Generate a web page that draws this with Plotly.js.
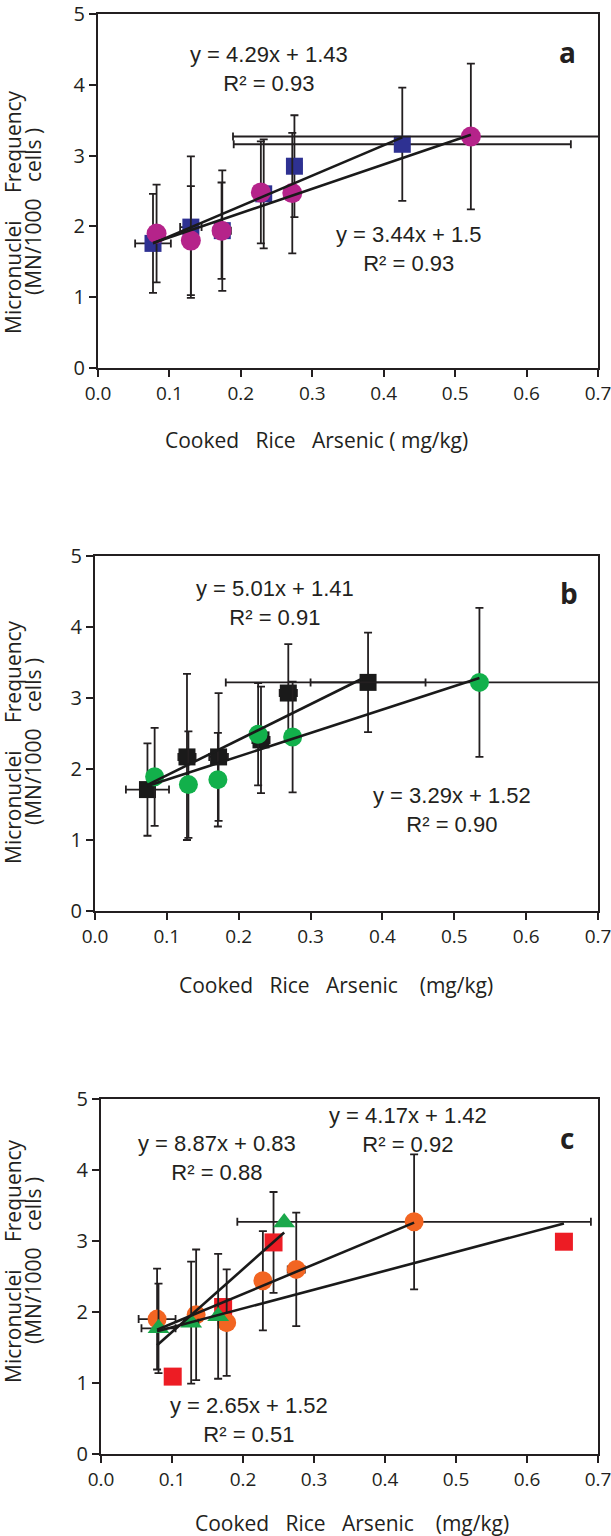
<!DOCTYPE html>
<html>
<head>
<meta charset="utf-8">
<script src="https://cdn.plot.ly/plotly-3.0.1.min.js"></script>
<style>
  body { margin: 0; background: #fff; }
  #graph { width: 611px; height: 1536px; }
</style>
</head>
<body>
<div id="graph"></div>
<script>

// panel a : magenta circles and blue squares
var aMagX = [0.082, 0.130, 0.173, 0.228, 0.272, 0.522];
var aMagY = [1.90, 1.80, 1.94, 2.48, 2.47, 3.27];
var aMagEy = [0.69, 0.77, 0.68, 0.72, 0.85, 1.03];
var aMagEx = [0.010, 0.008, 0.008, 0.008, 0.010, 0.333];
var aBluX = [0.077, 0.130, 0.174, 0.232, 0.275, 0.426];
var aBluY = [1.76, 1.99, 1.94, 2.46, 2.85, 3.16];
var aBluEy = [0.70, 1.00, 0.85, 0.77, 0.72, 0.80];
var aBluEx = [0.025, 0.015, 0.012, 0.010, 0.010, 0.236];

// panel b : black squares and green circles
var bBlkX = [0.073, 0.128, 0.172, 0.231, 0.269, 0.380];
var bBlkY = [1.71, 2.17, 2.17, 2.41, 3.07, 3.22];
var bBlkEy = [0.65, 1.17, 0.90, 0.75, 0.69, 0.70];
var bBlkEx = [0.030, 0.012, 0.013, 0.012, 0.012, 0.080];
var bGrnX = [0.083, 0.130, 0.171, 0.227, 0.275, 0.535];
var bGrnY = [1.89, 1.78, 1.85, 2.49, 2.45, 3.22];
var bGrnEy = [0.69, 0.75, 0.66, 0.72, 0.78, 1.05];
var bGrnEx = [0.006, 0.006, 0.006, 0.006, 0.006, 0.353];

// panel c : orange circles, green triangles, red squares
var cOrgX = [0.079, 0.134, 0.177, 0.228, 0.275, 0.441];
var cOrgY = [1.90, 1.96, 1.85, 2.44, 2.60, 3.27];
var cOrgEy = [0.71, 0.92, 0.75, 0.70, 0.80, 0.95];
var cOrgEx = [0.026, 0.010, 0.005, 0.005, 0.012, 0.249];
var cTriX = [0.081, 0.127, 0.165, 0.258];
var cTriY = [1.77, 1.85, 1.94, 3.26];
var cTriEy = [0.63, 0.86, 0.88, NaN];
var cTriEx = [0.024, 0.010, 0.005, NaN];
var cRedX = [0.101, 0.172, 0.243, 0.652];
var cRedY = [1.09, 2.07, 2.98, 2.99];
var cRedEy = [NaN, NaN, 0.71, NaN];
var cRedEx = [NaN, NaN, 0.010, NaN];

// trend lines (slope, intercept) as printed on the chart
var aSlope = [4.29, 3.44], aInter = [1.43, 1.5], aR2 = ["0.93", "0.93"];
var bSlope = [5.01, 3.29], bInter = [1.41, 1.52], bR2 = ["0.91", "0.90"];
var cSlope = [4.17, 8.87, 2.65], cInter = [1.42, 0.83, 1.52], cR2 = ["0.92", "0.88", "0.51"];

var xTicks = [0, 0.1, 0.2, 0.3, 0.4, 0.5, 0.6, 0.7];
var xTickText = ["0.0", "0.1", "0.2", "0.3", "0.4", "0.5", "0.6", "0.7"];
var yTicks = [0, 1, 2, 3, 4, 5];

var W = 611, H = 1536;
var ink = "#231f20";
function px(v) { return v / W; }
function py(v) { return 1 - v / H; }

function pts(x, y, ex, ey, color, symbol, size, n) {
    return {
        x: x, y: y, type: "scatter", mode: "markers",
        xaxis: "x" + n, yaxis: "y" + n,
        marker: {color: color, symbol: symbol, size: size},
        error_y: {type: "data", array: ey, color: ink, thickness: 1.8, width: 4},
        error_x: {type: "data", array: ex, color: ink, thickness: 1.8, width: 4},
        showlegend: false, hoverinfo: "x+y"
    };
}

function fit(slope, inter, x0, x1, n) {
    return {
        x: [x0, x1], y: [slope * x0 + inter, slope * x1 + inter],
        type: "scatter", mode: "lines", xaxis: "x" + n, yaxis: "y" + n,
        line: {color: "#1a1a1a", width: 2.6}, showlegend: false, hoverinfo: "skip"
    };
}

function eqText(s, b, r2) {
    var sign = b >= 0 ? " + " : " - ";
    return "y = " + s.toFixed(2) + "x" + sign + Math.abs(b) + "<br>R\u00b2 = " + r2;
}

var aMin = Math.min.apply(null, aMagX.concat(aBluX));
var bMin = Math.min.apply(null, bBlkX.concat(bGrnX));
var cMin = Math.min.apply(null, cOrgX.concat(cTriX));
function max(a) { return Math.max.apply(null, a); }

var data = [
    pts(aBluX, aBluY, aBluEx, aBluEy, "#2e3192", "square", 17, ""),
    pts(aMagX, aMagY, aMagEx, aMagEy, "#b5238a", "circle", 20, ""),
    fit(aSlope[0], aInter[0], aMin, max(aBluX), ""),
    fit(aSlope[1], aInter[1], aMin, max(aMagX), ""),

    pts(bBlkX, bBlkY, bBlkEx, bBlkEy, "#1a1a1a", "square", 17, "2"),
    pts(bGrnX, bGrnY, bGrnEx, bGrnEy, "#12b04b", "circle", 19, "2"),
    fit(bSlope[0], bInter[0], bMin, max(bBlkX), "2"),
    fit(bSlope[1], bInter[1], bMin, max(bGrnX), "2"),

    pts(cRedX, cRedY, cRedEx, cRedEy, "#ed1c24", "square", 18, "3"),
    pts(cOrgX, cOrgY, cOrgEx, cOrgEy, "#f26522", "circle", 19, "3"),
    pts(cTriX, cTriY, cTriEx, cTriEy, "#1aa84b", "triangle-up", 19, "3"),
    fit(cSlope[0], cInter[0], cMin, max(cOrgX), "3"),
    fit(cSlope[1], cInter[1], cMin, max(cTriX), "3"),
    fit(cSlope[2], cInter[2], cMin, max(cRedX), "3")
];

function xAxis(l, r, anchor) {
    return {
        domain: [px(l), px(r)], anchor: anchor, range: [0, 0.7],
        tickvals: xTicks, ticktext: xTickText, ticklabeloverflow: "allow",
        ticks: "outside", ticklen: 7, tickwidth: 2, tickcolor: ink,
        showline: true, linewidth: 2, linecolor: ink, mirror: true,
        showgrid: false, zeroline: false,
        tickfont: {family: "Open Sans", size: 19, color: ink}
    };
}
function yAxis(t, b, anchor) {
    return {
        domain: [py(b), py(t)], anchor: anchor, range: [0, 5],
        tickvals: yTicks, ticklabeloverflow: "allow",
        ticks: "outside", ticklen: 7, tickwidth: 2, tickcolor: ink,
        showline: true, linewidth: 2, linecolor: ink, mirror: true,
        showgrid: false, zeroline: false,
        tickfont: {family: "Open Sans", size: 20, color: ink}
    };
}

var sp = "\u00a0\u00a0\u00a0";
var yTitle1 = "Micronuclei\u00a0\u00a0\u00a0\u00a0\u00a0Frequency";
var yTitle2 = "(MN/1000\u00a0\u00a0\u00a0cells\u00a0)";
var xTitleA = "Cooked" + sp + "Rice" + sp + "Arsenic\u00a0(\u00a0mg/kg)";
var xTitleBC = "Cooked" + sp + "Rice" + sp + "Arsenic" + sp + "\u00a0(mg/kg)";

var eqFont = {family: "Liberation Sans, Arial", size: 22, color: ink};
var labFont = {family: "Open Sans", size: 21, color: ink};
var yFont = {family: "Open Sans", size: 21, color: ink};
var letFont = {family: "Open Sans", size: 28, color: ink, weight: "bold"};

function note(text, x, y, font, angle) {
    return {
        text: text, xref: "paper", yref: "paper", x: px(x), y: py(y),
        xanchor: "center", yanchor: "middle", showarrow: false,
        font: font, align: "center", textangle: angle || 0
    };
}

var annotations = [
    note(eqText(aSlope[0], aInter[0], aR2[0]), 269, 69, eqFont),
    note(eqText(aSlope[1], aInter[1], aR2[1]), 409, 249, eqFont),
    note("<b>a</b>", 567, 52, letFont),
    note(eqText(bSlope[0], bInter[0], bR2[0]), 275, 603, eqFont),
    note(eqText(bSlope[1], bInter[1], bR2[1]), 452, 810, eqFont),
    note("<b>b</b>", 569, 593, letFont),
    note(eqText(cSlope[0], cInter[0], cR2[0]), 408, 1130, eqFont),
    note(eqText(cSlope[1], cInter[1], cR2[1]), 217, 1158, eqFont),
    note(eqText(cSlope[2], cInter[2], cR2[2]), 249, 1420, eqFont),
    note("<b>c</b>", 567, 1138, letFont),
    note(yTitle1, 13, 212, yFont, -90),
    note(yTitle2, 33, 212, yFont, -90),
    note(yTitle1, 13, 742, yFont, -90),
    note(yTitle2, 33, 742, yFont, -90),
    note(yTitle1, 13, 1261, yFont, -90),
    note(yTitle2, 33, 1261, yFont, -90),
    note(xTitleA, 316, 440, labFont),
    note(xTitleBC, 336, 985, labFont),
    note(xTitleBC, 352, 1523, labFont)
];

var layout = {
    width: W, height: H,
    margin: {l: 0, r: 0, t: 0, b: 0},
    paper_bgcolor: "#fff", plot_bgcolor: "#fff",
    showlegend: false,
    xaxis: xAxis(98, 598, "y"),
    yaxis: yAxis(14, 368, "x"),
    xaxis2: xAxis(95, 598, "y2"),
    yaxis2: yAxis(556, 911, "x2"),
    xaxis3: xAxis(101, 598, "y3"),
    yaxis3: yAxis(1099, 1454, "x3"),
    annotations: annotations
};

Plotly.newPlot("graph", data, layout, {displayModeBar: false, staticPlot: true});
</script>
</body>
</html>
